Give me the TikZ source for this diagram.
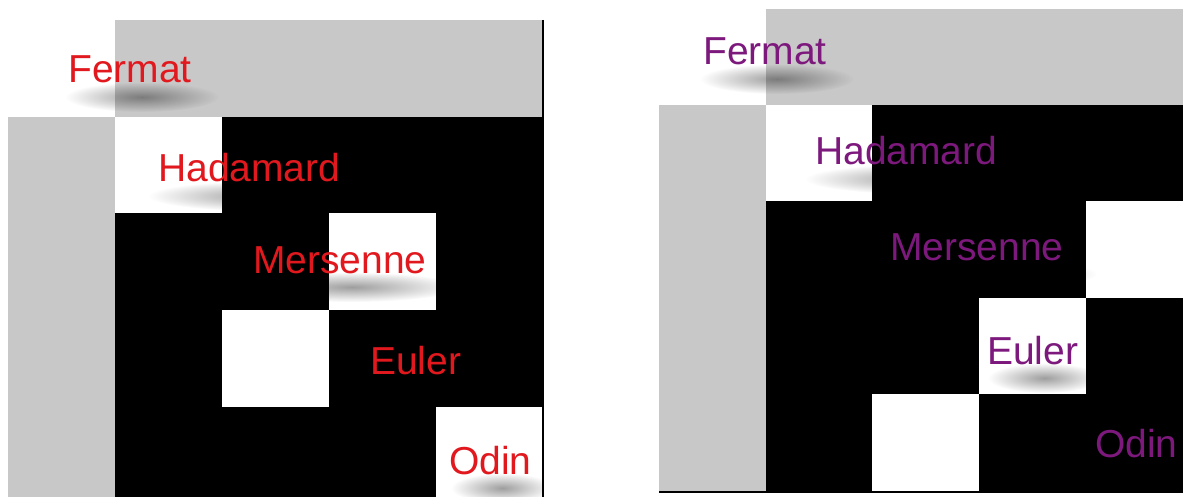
\documentclass[tikz,border=0pt]{standalone}
\usepackage{fontspec}
\setmainfont{Liberation Sans}
\usetikzlibrary{fadings,calc}
\tikzfading[name=softblob, inner color=transparent!0, outer color=transparent!100]
\pgfdeclarelayer{cells}
\pgfdeclarelayer{shade}
\pgfsetlayers{cells,shade,main}
\definecolor{cellgray}{RGB}{200,200,200}
\definecolor{redtxt}{RGB}{225,25,30}
\definecolor{purtxt}{RGB}{125,25,125}
\newcommand\lblfont{\fontsize{39}{44}\selectfont}
% #1 = label node, #2/#3 = corners of the panel that clips the shadow
\newcommand\txtshadow[3]{%
  \begin{pgfonlayer}{shade}
  \begin{scope}
    \clip #2 rectangle #3;
    \fill[black, opacity=.38, path fading=softblob]
      let \p1=(#1.base west), \p2=(#1.base east) in
      ({(\x1+\x2)/2+12pt},{\y1-14pt}) ellipse [x radius={0.62*(\x2-\x1)}, y radius=15pt];
  \end{scope}
  \end{pgfonlayer}}
\tikzset{
  lbl/.style={anchor=base west, inner sep=0pt, font=\lblfont},
  redlbl/.style={lbl, text=redtxt},
  purlbl/.style={lbl, text=purtxt},
  graycell/.style={fill=cellgray},
  blackcell/.style={fill=black},
  whitecell/.style={fill=white}
}
\begin{document}
\begin{tikzpicture}[x=1pt,y=-1pt]
\useasboundingbox (0,0) rectangle (1183,497);
\begin{pgfonlayer}{cells}
\fill[white] (0,0) rectangle (1183,497);
% ---------- left panel ----------
\fill[graycell] (115,20) rectangle (544,117);
\fill[graycell] (8,117) rectangle (115,497);
\fill[blackcell] (115,117) rectangle (544,497);
\fill[whitecell] (115,117) rectangle (222,213);
\fill[whitecell] (329,213) rectangle (436,310);
\fill[whitecell] (222,310) rectangle (329,407);
\fill[whitecell] (436,407) rectangle (542.5,497);
\draw[black, line width=1.5pt] (543.2,20) -- (543.2,497);
% ---------- right panel ----------
\fill[graycell] (766,9) rectangle (1183,105);
\fill[graycell] (659,105) rectangle (766,491);
\fill[blackcell] (766,105) rectangle (1183,491);
\fill[whitecell] (766,105) rectangle (872,201);
\fill[whitecell] (1086,201) rectangle (1183,298);
\fill[whitecell] (979,298) rectangle (1086,394);
\fill[whitecell] (872,394) rectangle (979,491);
\draw[black, line width=2.5pt] (659,492) -- (1183,492);
\end{pgfonlayer}
% ---------- left labels ----------
\node[redlbl] (lF) at (68,83) {Fermat};
\node[redlbl] (lH) at (158,182) {Hadamard};
\node[redlbl] (lM) at (253,273) {Mersenne};
\node[redlbl] (lE) at (370,374) {Euler};
\node[redlbl] (lO) at (449,474) {Odin};
% ---------- right labels ----------
\node[purlbl] (rF) at (703,65) {Fermat};
\node[purlbl] (rH) at (815,165) {Hadamard};
\node[purlbl] (rM) at (890,260) {Mersenne};
\node[purlbl] (rE) at (987,364) {Euler};
\node[purlbl] (rO) at (1095,457) {Odin};
\txtshadow{lF}{(8,20)}{(542.5,497)}
\txtshadow{lH}{(8,20)}{(542.5,497)}
\txtshadow{lM}{(8,20)}{(542.5,497)}
\txtshadow{lE}{(8,20)}{(542.5,497)}
\txtshadow{lO}{(8,20)}{(542.5,497)}
\txtshadow{rF}{(659,9)}{(1183,491)}
\txtshadow{rH}{(659,9)}{(1183,491)}
\txtshadow{rM}{(659,9)}{(1183,491)}
\txtshadow{rE}{(659,9)}{(1183,491)}
\txtshadow{rO}{(659,9)}{(1183,491)}
\end{tikzpicture}
\end{document}
